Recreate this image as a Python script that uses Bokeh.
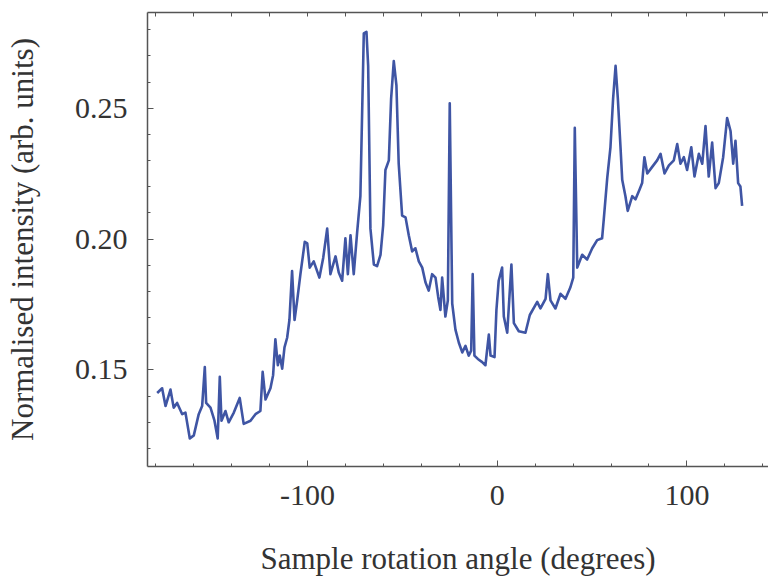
from bokeh.plotting import figure
from bokeh.models import FixedTicker, LinearAxis, Range1d, ColumnDataSource, PrintfTickFormatter
from bokeh.embed import file_html
from bokeh.resources import INLINE

# Sample rotation angle (degrees)
angle = [-179.2, -176.6, -174.8, -172.2, -170.5, -168.7, -166.0, -164.3, -162.0, -159.9,
         -157.3, -155.5, -154.1, -153.4, -151.1, -149.0, -147.3, -146.2, -145.3, -143.2,
         -141.5, -138.8, -135.7, -133.6, -130.0, -127.4, -124.8, -123.6, -122.1, -119.5,
         -118.1, -116.9, -115.6, -114.6, -113.3, -112.1, -110.7, -109.5, -108.1, -106.8,
         -105.4, -103.7, -101.4, -100.1, -98.8, -96.7, -93.7, -91.7, -89.6, -87.9,
         -85.2, -83.5, -81.7, -80.0, -78.7, -77.3, -75.6, -73.8, -72.1, -70.3,
         -68.9, -68.0, -66.8, -65.0, -63.3, -61.5, -60.1, -58.9, -57.1, -55.9,
         -54.5, -53.1, -51.9, -50.1, -48.3, -46.6, -44.8, -43.1, -41.3, -39.5,
         -37.8, -36.1, -34.3, -32.5, -31.1, -29.9, -29.0, -27.3, -26.0, -25.0,
         -23.7, -22.0, -20.2, -18.4, -16.7, -15.0, -13.7, -12.9, -12.0, -10.2,
         -7.9, -6.2, -4.4, -3.5, -1.4, -0.4, 0.8, 2.6, 3.5, 5.3,
         7.5, 8.8, 11.4, 14.9, 17.2, 21.1, 22.8, 25.5, 26.7, 28.1,
         30.7, 33.4, 36.0, 38.6, 40.1, 40.9, 42.2, 44.8, 47.4, 50.1,
         52.7, 55.3, 56.2, 58.0, 59.7, 61.1, 62.4, 63.6, 65.0, 65.9,
         67.6, 68.8, 71.2, 72.9, 75.0, 76.4, 77.6, 79.1, 81.7, 84.3,
         86.1, 88.2, 90.5, 93.1, 94.9, 96.6, 98.4, 100.1, 102.3, 104.0,
         106.3, 108.1, 109.8, 111.5, 113.3, 115.1, 116.8, 119.1, 121.2, 123.0,
         124.4, 125.6, 127.0, 128.2, 129.1]

# Normalised intensity (arb. units)
intensity = [0.1412, 0.1430, 0.1362, 0.1425, 0.1356, 0.1374, 0.1331, 0.1337, 0.1238, 0.1250,
             0.1331, 0.1362, 0.1511, 0.1374, 0.1356, 0.1306, 0.1238, 0.1474, 0.1306, 0.1343,
             0.1300, 0.1337, 0.1393, 0.1294, 0.1306, 0.1331, 0.1343, 0.1493, 0.1387, 0.1430,
             0.1480, 0.1617, 0.1518, 0.1555, 0.1505, 0.1586, 0.1623, 0.1691, 0.1878, 0.1691,
             0.1766, 0.1866, 0.1990, 0.1984, 0.1891, 0.1915, 0.1853, 0.1928, 0.2040, 0.1866,
             0.1934, 0.1872, 0.1841, 0.2003, 0.1866, 0.2015, 0.1866, 0.2027, 0.2164, 0.2786,
             0.2792, 0.2662, 0.2040, 0.1903, 0.1897, 0.1940, 0.2052, 0.2264, 0.2301, 0.2537,
             0.2680, 0.2587, 0.2288, 0.2090, 0.2083, 0.2015, 0.1953, 0.1965, 0.1915, 0.1891,
             0.1835, 0.1803, 0.1866, 0.1853, 0.1779, 0.1729, 0.1853, 0.1704, 0.1766, 0.2519,
             0.1754, 0.1654, 0.1604, 0.1567, 0.1592, 0.1555, 0.1574, 0.1866, 0.1555, 0.1542,
             0.1530, 0.1518, 0.1635, 0.1555, 0.1549, 0.1729, 0.1841, 0.1891, 0.1704, 0.1642,
             0.1903, 0.1679, 0.1648, 0.1642, 0.1710, 0.1760, 0.1735, 0.1772, 0.1866, 0.1766,
             0.1735, 0.1791, 0.1772, 0.1816, 0.1853, 0.2425, 0.1891, 0.1940, 0.1922, 0.1965,
             0.1996, 0.2003, 0.2077, 0.2233, 0.2351, 0.2537, 0.2662, 0.2537, 0.2351, 0.2227,
             0.2164, 0.2108, 0.2164, 0.2152, 0.2189, 0.2214, 0.2313, 0.2251, 0.2276, 0.2301,
             0.2326, 0.2251, 0.2282, 0.2301, 0.2363, 0.2288, 0.2313, 0.2264, 0.2351, 0.2239,
             0.2326, 0.2288, 0.2432, 0.2239, 0.2369, 0.2195, 0.2214, 0.2313, 0.2463, 0.2413,
             0.2288, 0.2376, 0.2214, 0.2201, 0.2127]

x_major = [-100, 0, 100]
x_minor = [-180, -160, -140, -120, -80, -60, -40, -20, 20, 40, 60, 80, 120, 140]
y_major = [0.15, 0.20, 0.25]
y_minor = [0.12, 0.13, 0.14, 0.16, 0.17, 0.18, 0.19, 0.21, 0.22, 0.23, 0.24, 0.26, 0.27, 0.28]

FONT = "Liberation Serif"
TXT = "#333333"
AX = "#555555"

p = figure(width=768, height=578, output_backend="svg", toolbar_location=None,
           x_range=Range1d(-184.3, 143.0), y_range=Range1d(0.1131, 0.2866),
           min_border_left=147, min_border_right=0, min_border_top=12, min_border_bottom=101)
p.grid.visible = False
p.outline_line_color = None
p.background_fill_color = "white"
p.border_fill_color = "white"

src = ColumnDataSource(dict(x=angle, y=intensity))
p.line("x", "y", source=src, line_color="#3f55a4", line_width=2.6, line_join="round")

xt = FixedTicker(ticks=x_major, minor_ticks=x_minor)
yt = FixedTicker(ticks=y_major, minor_ticks=y_minor)

xa = p.xaxis[0]
xa.ticker = xt
xa.formatter = PrintfTickFormatter(format="%d")
xa.axis_label = "Sample rotation angle (degrees)"
ya = p.yaxis[0]
ya.ticker = yt
ya.formatter = PrintfTickFormatter(format="%.2f")
ya.axis_label = "Normalised intensity (arb. units)"

for ax in (xa, ya):
    ax.axis_line_color = AX
    ax.axis_line_width = 1.5
    ax.major_tick_line_color = AX
    ax.minor_tick_line_color = AX
    ax.major_tick_in = 6
    ax.major_tick_out = 0
    ax.minor_tick_in = 3
    ax.minor_tick_out = 0
    ax.major_label_text_font = FONT
    ax.major_label_text_font_size = "30px"
    ax.major_label_text_color = TXT
    ax.axis_label_text_font = FONT
    ax.axis_label_text_font_size = "31px"
    ax.axis_label_text_font_style = "normal"
    ax.axis_label_text_color = TXT

xa.major_label_standoff = 19
xa.axis_label_standoff = 33
ya.major_label_standoff = 20
ya.axis_label_standoff = 32

# top frame edge: tick marks only, no labels
top_ticker = FixedTicker(ticks=[], minor_ticks=sorted(x_major + x_minor))
top = LinearAxis(ticker=top_ticker, axis_line_color=AX, axis_line_width=1.5,
                 major_tick_line_color=AX, minor_tick_line_color=AX,
                 major_tick_in=0, major_tick_out=0, minor_tick_in=4, minor_tick_out=0,
                 major_label_standoff=0)
p.add_layout(top, "above")

open("out.html", "w").write(file_html(p, INLINE))
